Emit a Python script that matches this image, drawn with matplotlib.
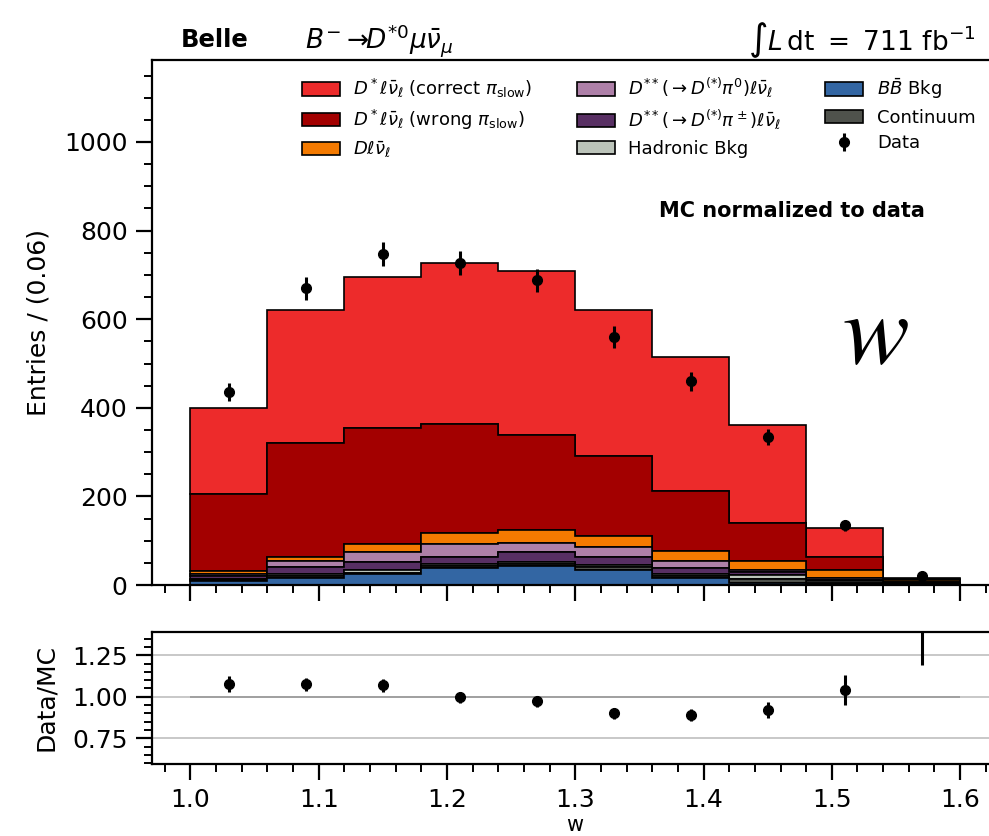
import numpy as np
import matplotlib.pyplot as plt
from matplotlib.ticker import MultipleLocator

# --- data ---
edges = [1.00, 1.06, 1.12, 1.18, 1.24, 1.30, 1.36, 1.42, 1.48, 1.54, 1.60]
centers = [1.03, 1.09, 1.15, 1.21, 1.27, 1.33, 1.39, 1.45, 1.51, 1.57]

# stacked MC components, bottom to top
bb_bkg    = [10, 17, 25, 39, 44, 35, 15, 5, 2, 1]
continuum = [1, 3, 3, 4, 4, 5, 5, 8, 3, 1]
hadronic  = [2, 5, 5, 4, 5, 5, 5, 10, 5, 2]
dss_pipm  = [7, 15, 20, 17, 21, 19, 13, 7, 2, 1]
dss_pi0   = [6, 14, 22, 29, 22, 21, 17, 4, 3, 1]
d_lnu     = [6, 10, 17, 24, 28, 26, 22, 21, 20, 5]
dst_wrong = [173, 256, 262, 246, 215, 180, 135, 85, 28, 2]
dst_right = [195, 301, 341, 364, 370, 330, 303, 221, 66, 3]

data     = [436, 670, 747, 727, 688, 560, 460, 334, 135, 20]
data_err = [21, 26, 27, 27, 26, 24, 21, 18, 12, 5]

ratio     = [1.078, 1.076, 1.068, 0.996, 0.972, 0.900, 0.892, 0.920, 1.040, 1.70]
ratio_err = [0.05, 0.04, 0.04, 0.035, 0.035, 0.035, 0.035, 0.05, 0.09, 0.51]

components = [bb_bkg, continuum, hadronic, dss_pipm, dss_pi0, d_lnu, dst_wrong, dst_right]
colors = ["#3366a3", "#4f524c", "#bcc4ba", "#582f63", "#ae80a8",
          "#f47a00", "#a30000", "#ed2b2b"]
labels = [r"$B\bar{B}$ Bkg", "Continuum", "Hadronic Bkg",
          r"$D^{**}(\rightarrow D^{(*)}\pi^\pm)\ell\bar{\nu}_\ell$",
          r"$D^{**}(\rightarrow D^{(*)}\pi^0)\ell\bar{\nu}_\ell$",
          r"$D\ell\bar{\nu}_\ell$",
          r"$D^*\ell\bar{\nu}_\ell$ (wrong $\pi_{\rm slow}$)",
          r"$D^*\ell\bar{\nu}_\ell$ (correct $\pi_{\rm slow}$)"]

plt.rcParams["font.family"] = "DejaVu Sans"
plt.rcParams["axes.linewidth"] = 1.6

fig = plt.figure(figsize=(9.89, 8.36), dpi=100)
ax = fig.add_axes([0.1537, 0.3002, 0.856, 0.628])
rax = fig.add_axes([0.1537, 0.0861, 0.856, 0.158])

# --- main panel ---
_, _, patches = ax.hist([centers] * len(components), bins=edges, weights=components,
                        stacked=True, histtype="stepfilled", color=colors,
                        edgecolor="black", linewidth=1.2, label=labels)
eb = ax.errorbar(centers, data, yerr=data_err, fmt="o", color="black", ms=7,
                 elinewidth=2.2, capsize=0, label="Data")

ax.set_xlim(0.97, 1.63)
ax.set_ylim(0, 1185)
ax.set_ylabel("Entries / (0.06)", fontsize=18, labelpad=10)
ax.yaxis.set_major_locator(MultipleLocator(200))
ax.yaxis.set_minor_locator(MultipleLocator(50))
ax.xaxis.set_major_locator(MultipleLocator(0.1))
ax.xaxis.set_minor_locator(MultipleLocator(0.02))
for a in (ax, rax):
    a.tick_params(which="major", direction="out", length=11.5, width=1.6,
                  labelsize=18, pad=6)
    a.tick_params(which="minor", direction="out", length=5.5, width=1.4)
    a.tick_params(top=False, right=False)
ax.tick_params(axis="x", labelbottom=False)

# legend: correct, wrong, D | D**pi0, D**pi+-, hadronic | BB, continuum, data
order = [7, 6, 5, 4, 3, 2, 0, 1]
handles = [patches[i][0] for i in order] + [eb]
leg_labels = [labels[i] for i in order] + ["Data"]
ax.legend(handles, leg_labels, ncol=3, loc="upper left", frameon=False,
          fontsize=13, bbox_to_anchor=(0.158, 1.0), handlelength=2.1,
          handleheight=0.75, columnspacing=2.45, labelspacing=0.42,
          handletextpad=0.75)

ax.text(0.599, 0.713, "MC normalized to data", transform=ax.transAxes,
        fontsize=15, fontweight="bold", ha="left", va="center")
ax.text(0.854, 0.476, r"$w$", transform=ax.transAxes, fontsize=72,
        math_fontfamily="stix", ha="center", va="center")

fig.text(0.183, 0.952, "Belle", fontsize=17.5, fontweight="bold", ha="left", va="center")
fig.text(0.308, 0.952, r"$B^{-}\ \!\!\rightarrow\!\! D^{*0}\mu\bar{\nu}_\mu$", fontsize=19,
         ha="left", va="center")
fig.text(0.986, 0.952, r"$\int L\,\mathrm{dt}\ =\ 711\ \mathrm{fb}^{-1}$", fontsize=19,
         ha="right", va="center")

# --- ratio panel ---
rax.grid(axis="y", color="#c8c8c8", linewidth=1.4)
rax.hlines(1.0, edges[0], edges[-1], color="#999999", linewidth=1.2)
rax.errorbar(centers, ratio, yerr=ratio_err, fmt="o", color="black", ms=7,
             elinewidth=2.2, capsize=0)
rax.set_xlim(0.97, 1.63)
rax.set_ylim(0.596, 1.39)
rax.set_yticks([0.75, 1.00, 1.25])
rax.yaxis.set_minor_locator(MultipleLocator(0.05))
rax.xaxis.set_major_locator(MultipleLocator(0.1))
rax.xaxis.set_minor_locator(MultipleLocator(0.02))
rax.set_ylabel("Data/MC", fontsize=18, labelpad=10)
fig.text(0.581, 0.001, "w", fontsize=15, ha="center", va="bottom")

fig.savefig("out.png", dpi=100)
